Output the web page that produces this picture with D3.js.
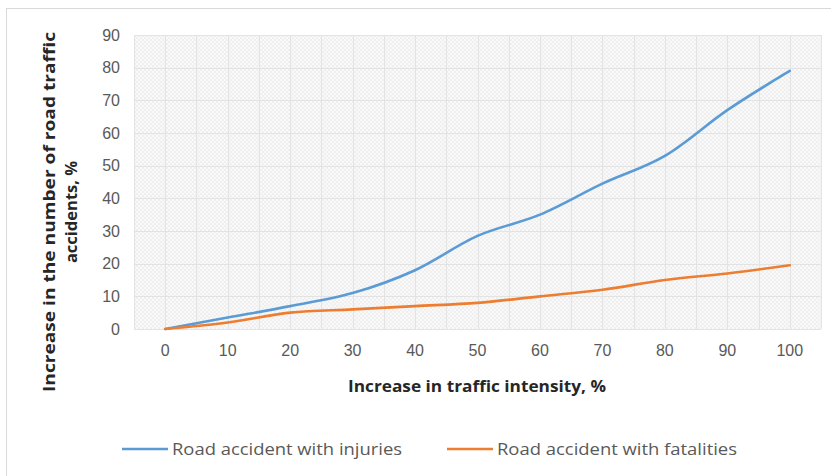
<!DOCTYPE html>
<html lang="en">
<head>
	<meta charset="utf-8">
	<title>traffic intensity vs accidents</title>
	<script src="https://d3js.org/d3.v7.min.js"></script>
	<style type="text/css">
	body { margin: 0; background: #ffffff; }
	svg { display: block; font-family: "Open Sans", "Noto Sans", sans-serif; }
	</style>
</head>
<body>
	<svg id="chart" width="831" height="476"></svg>

	<script type="text/javascript">
	// data
	var intensity = ["0", "10", "20", "30", "40", "50", "60", "70", "80", "90", "100"]
	var injuries = [0, 3.5, 7, 11, 18, 28.5, 35, 44.5, 53, 67, 79]
	var fatalities = [0, 2, 5, 6, 7, 8, 10, 12, 15, 17, 19.5]
	var yTicks = [0, 10, 20, 30, 40, 50, 60, 70, 80, 90]
	var seriesNames = ["Road accident with injuries", "Road accident with fatalities"]

	var blue = "#5b9bd5"
	var orange = "#ed7d31"
	var textGray = "#595959"

	var margin = {top: 35, left: 134, right: 10, bottom: 147}
	var W = 831, H = 476
	var width = W - margin.left - margin.right   // 687
	var height = H - margin.top - margin.bottom  // 294

	var svg = d3.select("#chart")

	// chart frame
	svg.append("rect")
		.attr("x", 6.5).attr("y", 8.5)
		.attr("width", 840).attr("height", 480)
		.attr("fill", "#ffffff")
		.attr("stroke", "#d9d9d9")

	// hatched background pattern
	var defs = svg.append("defs")
	var pat = defs.append("pattern")
		.attr("id", "hatch")
		.attr("width", 4).attr("height", 4)
		.attr("patternUnits", "userSpaceOnUse")
	pat.append("rect").attr("width", 4).attr("height", 4).attr("fill", "#f9f9f9")
	pat.append("rect").attr("width", 2).attr("height", 2).attr("fill", "#efefef")
	pat.append("rect").attr("x", 2).attr("y", 2).attr("width", 2).attr("height", 2).attr("fill", "#efefef")

	var g = svg.append("g").attr("transform", "translate(" + margin.left + "," + margin.top + ")")

	var x = d3.scaleBand().domain(intensity).range([0, width])
	var y = d3.scaleLinear().domain([0, 90]).range([height, 0])
	var cx = function(d) { return x(d) + x.bandwidth() / 2 }

	g.append("rect")
		.attr("width", width).attr("height", height)
		.attr("fill", "url(#hatch)")

	// vertical grid: category edges and centres
	var vLines = []
	intensity.forEach(function(d) { vLines.push(x(d)); vLines.push(cx(d)) })
	vLines.push(width)
	g.append("g").selectAll("line")
		.data(vLines)
		.enter().append("line")
		.attr("x1", function(d) { return Math.round(d) + 0.5 })
		.attr("x2", function(d) { return Math.round(d) + 0.5 })
		.attr("y1", 0).attr("y2", height)
		.attr("stroke", "#e3e3e3")

	// horizontal grid
	g.append("g").selectAll("line")
		.data(yTicks)
		.enter().append("line")
		.attr("x1", 0).attr("x2", width)
		.attr("y1", function(d) { return Math.round(y(d)) + 0.5 })
		.attr("y2", function(d) { return Math.round(y(d)) + 0.5 })
		.attr("stroke", "#e3e3e3")

	// y axis labels
	var yAxis = g.append("g")
		.attr("transform", "translate(-14,0)")
		.call(d3.axisLeft(y).tickValues(yTicks).tickSize(0).tickPadding(0))
	yAxis.select(".domain").remove()
	yAxis.selectAll("text")
		.attr("fill", textGray)
		.style("font-size", "16px")

	// x axis labels
	var xAxis = g.append("g")
		.attr("transform", "translate(0," + height + ")")
		.call(d3.axisBottom(x).tickSize(0).tickPadding(16))
	xAxis.select(".domain").remove()
	xAxis.selectAll("text")
		.attr("fill", textGray)
		.style("font-size", "16px")

	// axis titles
	svg.append("text")
		.attr("x", 477).attr("y", 392)
		.attr("text-anchor", "middle")
		.attr("font-weight", "bold")
		.attr("font-size", "16.5px")
		.attr("fill", "#262626")
		.attr("textLength", 258)
		.attr("lengthAdjust", "spacingAndGlyphs")
		.text("Increase in traffic intensity, %")

	var yTitle = svg.append("text")
		.attr("transform", "translate(55,212) rotate(-90)")
		.attr("text-anchor", "middle")
		.attr("font-weight", "bold")
		.attr("font-size", "16.5px")
		.attr("fill", "#262626")
	yTitle.append("tspan").attr("x", 0).attr("y", 0)
		.attr("textLength", 360)
		.attr("lengthAdjust", "spacingAndGlyphs")
		.text("Increase in the number of road traffic")
	yTitle.append("tspan").attr("x", 0).attr("y", 22)
		.text("accidents, %")

	// lines
	var line = d3.line()
		.x(function(d, i) { return cx(intensity[i]) })
		.y(function(d) { return y(d) })
		.curve(d3.curveMonotoneX)

	var series = [injuries, fatalities]
	var colors = [blue, orange]

	g.selectAll(".series")
		.data(series)
		.enter().append("path")
		.attr("class", "series")
		.attr("d", line)
		.attr("fill", "none")
		.attr("stroke", function(d, i) { return colors[i] })
		.attr("stroke-width", 2.6)
		.attr("stroke-linecap", "round")

	// legend
	var legendX = [122, 447]
	var legend = svg.selectAll(".legend")
		.data(seriesNames)
		.enter().append("g")
		.attr("class", "legend")
		.attr("transform", function(d, i) { return "translate(" + legendX[i] + ",449)" })
	legend.append("line")
		.attr("x1", 0).attr("x2", 46)
		.attr("stroke", function(d, i) { return colors[i] })
		.attr("stroke-width", 2.6)
	legend.append("text")
		.attr("x", 50).attr("y", 5.5)
		.attr("font-size", "16px")
		.attr("fill", textGray)
		.attr("textLength", function(d, i) { return i == 0 ? 230 : 240 })
		.attr("lengthAdjust", "spacingAndGlyphs")
		.text(function(d) { return d })
	</script>
</body>
</html>
